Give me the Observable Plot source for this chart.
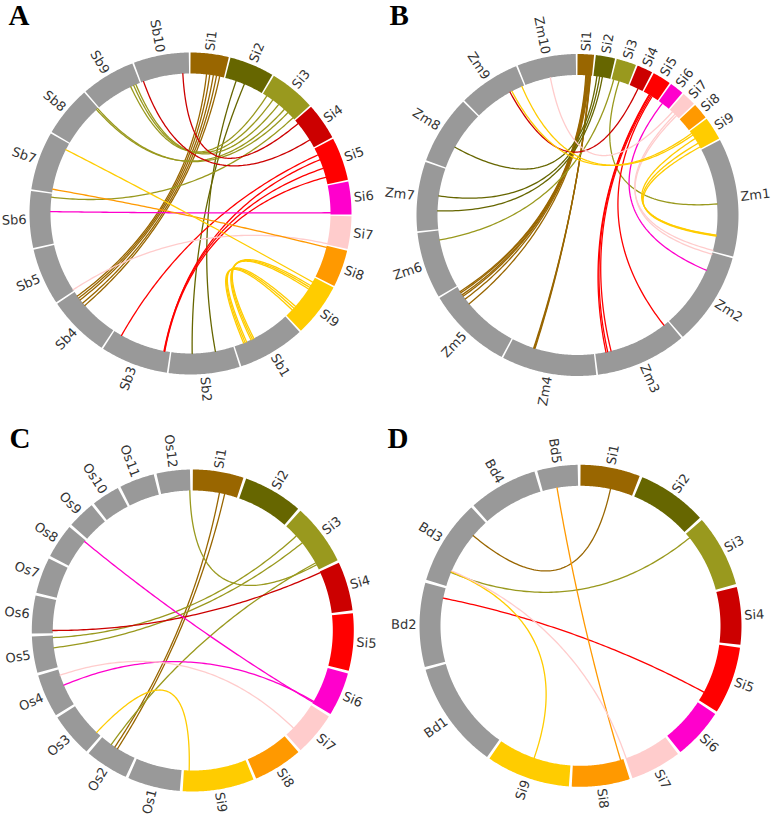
<!DOCTYPE html>
<html>
<head>
<meta charset="utf-8">
<script src="https://cdn.jsdelivr.net/npm/d3@7"></script>
<script src="https://cdn.jsdelivr.net/npm/@observablehq/plot@0.6"></script>
<style>
  body { margin: 0; background: #fff; }
  #chart { width: 771px; height: 816px; }
</style>
</head>
<body>
<div id="chart"></div>
<script>
// ---------- Data ----------
const siNames = ["Si1","Si2","Si3","Si4","Si5","Si6","Si7","Si8","Si9"];
const siSizes = [41.9,49.2,50.7,40.4,47.3,36.0,35.9,40.7,58.9];
const siColors = ["#996600","#666600","#99991e","#cc0000","#ff0000","#ff00cc","#ffcccc","#ff9900","#ffcc00"];
const otherColor = "#999999";

const sbNames = ["Sb1","Sb2","Sb3","Sb4","Sb5","Sb6","Sb7","Sb8","Sb9","Sb10"];
const sbSizes = [73.8,77.9,74.4,68.0,62.4,62.2,64.3,55.5,59.4,60.7];

const zmNames = ["Zm1","Zm2","Zm3","Zm4","Zm5","Zm6","Zm7","Zm8","Zm9","Zm10"];
const zmSizes = [301.4,237.1,232.1,241.5,217.9,169.4,176.8,175.4,157.0,149.6];

const osNames = ["Os1","Os2","Os3","Os4","Os5","Os6","Os7","Os8","Os9","Os10","Os11","Os12"];
const osSizes = [43.3,35.9,36.4,35.5,29.9,31.2,29.7,28.4,23.0,23.2,29.0,27.5];

const bdNames = ["Bd1","Bd2","Bd3","Bd4","Bd5"];
const bdSizes = [75.1,59.1,59.8,48.6,28.4];

const panelLetters = ["A","B","C","D"];

// links: [Si chromosome, position (Mb), other chromosome, position (Mb)]
const linksA = [
  ["Si1",20,"Sb4",62],["Si1",24,"Sb4",59],["Si1",28.5,"Sb4",56],["Si1",32.5,"Sb4",51],["Si1",36.5,"Sb4",47],
  ["Si2",14,"Sb2",23],["Si2",25,"Sb2",52],
  ["Si3",5.5,"Sb9",47],["Si3",14.5,"Sb9",51],["Si3",23.7,"Sb9",54],["Si3",33,"Sb8",53],["Si3",39,"Sb8",55],["Si3",48,"Sb6",58],
  ["Si4",30,"Sb10",3],["Si4",5,"Sb10",53],
  ["Si5",9,"Sb3",64],["Si5",15.5,"Sb3",7],["Si5",27,"Sb3",7.5],["Si5",38.5,"Sb3",6.5],
  ["Si6",34,"Sb6",40],
  ["Si7",35,"Sb5",1.5],
  ["Si8",2,"Sb7",4],
  ["Si9",6,"Sb7",56],
  ["Si9",11,"Sb1",48],["Si9",13.5,"Sb1",50],["Si9",16,"Sb1",52],
  ["Si9",43,"Sb1",58],["Si9",46,"Sb1",60],["Si9",49,"Sb1",62]
];
const linksB = [
  ["Si1",24,"Zm5",203],["Si1",26,"Zm5",199],["Si1",28,"Zm5",192],["Si1",30,"Zm5",187],["Si1",32,"Zm5",177],["Si1",34,"Zm5",159],
  ["Si1",36,"Zm4",172],["Si1",37,"Zm4",174],["Si1",38,"Zm4",176],
  ["Si2",10,"Zm8",64],["Si2",18,"Zm7",96],["Si2",26,"Zm7",53],
  ["Si3",6,"Zm6",142],["Si3",22,"Zm1",164],
  ["Si4",26,"Zm9",112],
  ["Si5",18,"Zm3",201],["Si5",20,"Zm3",196],["Si5",24,"Zm3",186],["Si5",28,"Zm3",15],
  ["Si6",12,"Zm2",54],
  ["Si7",10,"Zm10",75],["Si7",20,"Zm1",299],["Si7",26,"Zm2",5],
  ["Si9",8,"Zm9",118],["Si9",14,"Zm9",150],["Si9",26,"Zm1",254],["Si9",42,"Zm1",255],["Si9",54,"Zm1",257]
];
const linksC = [
  ["Si1",25,"Os2",21],["Si1",30,"Os2",18],
  ["Si3",46,"Os12",27],
  ["Si3",13,"Os5",28],["Si3",21.5,"Os5",18.5],["Si3",44,"Os2",25],
  ["Si4",1,"Os6",2.5],
  ["Si6",35,"Os8",27],["Si6",34,"Os4",20],
  ["Si7",27,"Os4",30],
  ["Si9",54,"Os3",4.6]
];
const linksD = [
  ["Si1",24,"Bd3",45.6],
  ["Si3",4.3,"Bd3",11.3],
  ["Si5",39.7,"Bd2",51],
  ["Si8",2.3,"Bd5",11.6],
  ["Si9",29.5,"Bd3",12],
  ["Si7",35.5,"Bd3",12.6]
];

// ---------- Layout ----------
const panels = [
  {letter: panelLetters[0], names: sbNames, sizes: sbSizes, links: linksA, cx: 190,   cy: 213,   gap: 0.6, lx: 8,   ly: 4},
  {letter: panelLetters[1], names: zmNames, sizes: zmSizes, links: linksB, cx: 577,   cy: 214.5, gap: 0.6, lx: 389, ly: 4},
  {letter: panelLetters[2], names: osNames, sizes: osSizes, links: linksC, cx: 192.3, cy: 630,   gap: 1.0, lx: 9,   ly: 427},
  {letter: panelLetters[3], names: bdNames, sizes: bdSizes, links: linksD, cx: 580,   cy: 625.3, gap: 1.0, lx: 387, ly: 427}
];
const R_IN = 140, R_OUT = 161, R_LAB = 164;
const CTRL = 0.66; // fraction of the way from a link end toward the centre for its Bezier control point
const rad = Math.PI / 180;

const ringRows = [], linkRows = [], labelRows = [], letterRows = [];
for (const p of panels) {
  const names = [...siNames, ...p.names];
  const sizes = [...siSizes, ...p.sizes];
  const colors = [...siColors, ...p.names.map(() => otherColor)];
  const k = (360 - names.length * p.gap) / d3.sum(sizes);
  const pt = (deg, r) => [p.cx + r * Math.sin(deg * rad), p.cy - r * Math.cos(deg * rad)];
  const start = {};
  let a = 0;
  names.forEach((n, i) => {
    start[n] = a;
    const end = a + sizes[i] * k;
    const steps = Math.max(2, Math.ceil((end - a) / 0.5));
    for (let s = 0; s <= steps; s++) {
      const t = a + (end - a) * s / steps;
      const [x, y] = pt(t, (R_IN + R_OUT) / 2);
      ringRows.push({id: p.letter + n, x, y, color: colors[i]});
    }
    const mid = (a + end) / 2;
    const [lx, ly] = pt(mid, R_LAB);
    const right = mid < 180;
    labelRows.push({x: lx, y: ly, text: n, rotate: right ? mid - 90 : mid - 270, right});
    a = end + p.gap;
  });
  const ang = (chr, pos) => start[chr] + pos * k;
  p.links.forEach((l, j) => {
    const a0 = ang(l[0], l[1]), a1 = ang(l[2], l[3]);
    const [x0, y0] = pt(a0, R_IN);
    const [x1, y1] = pt(a1, R_IN);
    const [c0x, c0y] = pt(a0, R_IN * (1 - CTRL));
    const [c1x, c1y] = pt(a1, R_IN * (1 - CTRL));
    const color = siColors[siNames.indexOf(l[0])];
    const N = 90;
    for (let s = 0; s <= N; s++) {
      const t = s / N, u = 1 - t;
      const b0 = u * u * u, b1 = 3 * u * u * t, b2 = 3 * u * t * t, b3 = t * t * t;
      linkRows.push({
        id: p.letter + "-" + j,
        x: b0 * x0 + b1 * c0x + b2 * c1x + b3 * x1,
        y: b0 * y0 + b1 * c0y + b2 * c1y + b3 * y1,
        color
      });
    }
  });
  letterRows.push({x: p.lx, y: p.ly, text: p.letter});
}

const labelStyle = {x: "x", y: "y", text: "text", rotate: "rotate", fontSize: 13, fontFamily: "DejaVu Sans", fill: "#333"};

const chart = Plot.plot({
  width: 771,
  height: 816,
  margin: 0,
  x: {domain: [0, 771], range: [0, 771], axis: null},
  y: {domain: [0, 816], range: [0, 816], axis: null},
  color: {type: "identity"},
  marks: [
    Plot.line(ringRows, {x: "x", y: "y", z: "id", stroke: "color", strokeWidth: 21, strokeLinecap: "butt", curve: "linear"}),
    Plot.line(linkRows, {x: "x", y: "y", z: "id", stroke: "color", strokeWidth: 1.3, curve: "linear"}),
    Plot.text(labelRows.filter(d => d.right), {...labelStyle, textAnchor: "start"}),
    Plot.text(labelRows.filter(d => !d.right), {...labelStyle, textAnchor: "end"}),
    Plot.text(letterRows, {x: "x", y: "y", text: "text", textAnchor: "start", lineAnchor: "top", fontSize: 29, fontWeight: "bold", fontFamily: "Liberation Serif", fill: "#000"})
  ]
});
document.getElementById("chart").appendChild(chart);
</script>
</body>
</html>
